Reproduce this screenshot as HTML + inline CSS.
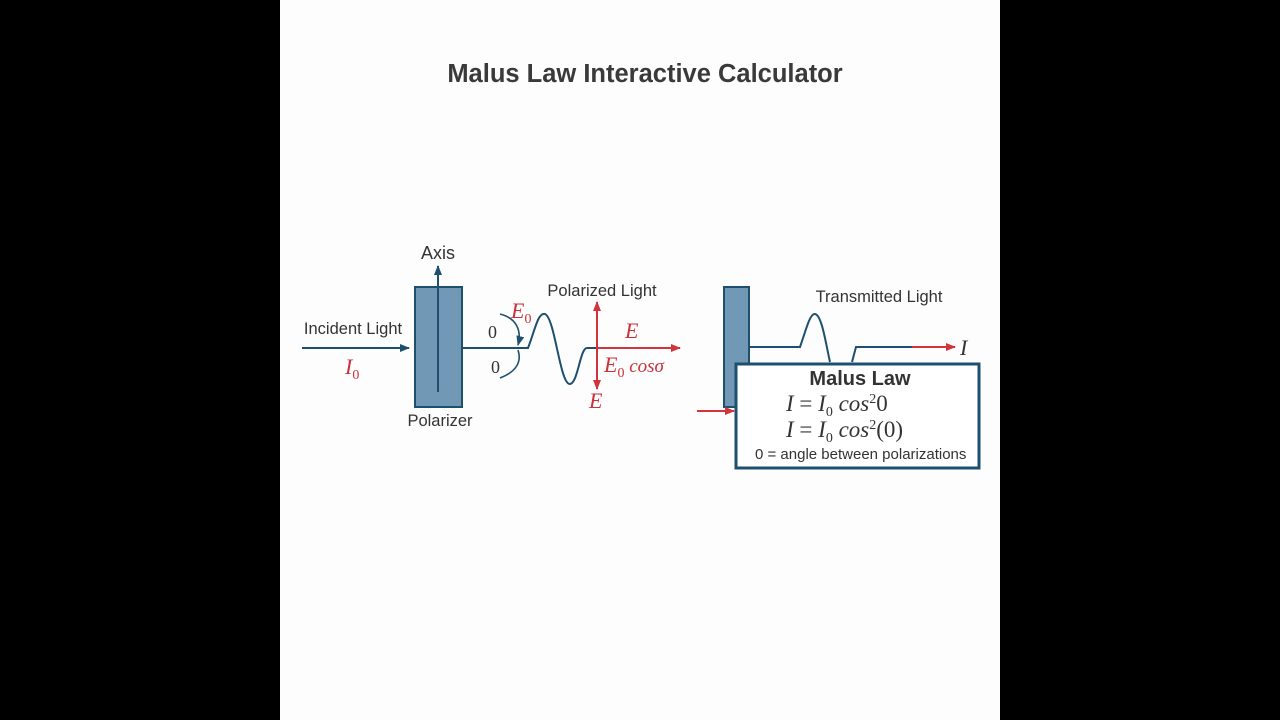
<!DOCTYPE html>
<html><head><style>
body{margin:0;width:1280px;height:720px;background:#000;position:relative;overflow:hidden;font-family:"Liberation Sans",sans-serif}
#pg{position:absolute;left:280px;top:0;width:720px;height:720px;background:#fdfdfd}
svg{position:absolute;left:0;top:0}
</style></head><body>
<div id="pg"></div>
<svg width="1280" height="720" viewBox="0 0 1280 720">
<defs>
<marker id="ab" markerWidth="10" markerHeight="8" refX="9" refY="4" orient="auto" markerUnits="userSpaceOnUse"><path d="M0,0 L10,4 L0,8 z" fill="#1e4f6e"/></marker>
<marker id="ar" markerWidth="10" markerHeight="8" refX="9" refY="4" orient="auto" markerUnits="userSpaceOnUse"><path d="M0,0 L10,4 L0,8 z" fill="#d0343c"/></marker>
</defs>
<text x="645" y="82" text-anchor="middle" font-size="25.5" font-weight="bold" fill="#3a3a3a">Malus Law Interactive Calculator</text>
<g font-size="16.5" fill="#333">
<text x="353" y="334" text-anchor="middle">Incident Light</text>
<text x="438" y="259" text-anchor="middle" font-size="18">Axis</text>
<text x="440" y="426" text-anchor="middle">Polarizer</text>
<text x="602" y="296" text-anchor="middle">Polarized Light</text>
<text x="879" y="302" text-anchor="middle">Transmitted Light</text>
</g>
<line x1="302" y1="348" x2="409" y2="348" stroke="#1e4f6e" stroke-width="2" marker-end="url(#ab)"/>
<rect x="415" y="287" width="47" height="120" fill="#7199b5" stroke="#1e4f6e" stroke-width="2"/>
<line x1="438" y1="392" x2="438" y2="266" stroke="#1e4f6e" stroke-width="2" marker-end="url(#ab)"/>
<path d="M462,348 L528,348 C535,330 538,312 545,314 C555,318 560,385 570,384 C578,383 580,348 587,348 L600,348" fill="none" stroke="#1e4f6e" stroke-width="2"/>
<path d="M500,314 C516,318 522,330 518,345" fill="none" stroke="#1e4f6e" stroke-width="1.6" marker-end="url(#ab)"/>
<path d="M500,378 C516,372 522,362 518,350" fill="none" stroke="#1e4f6e" stroke-width="1.6"/>
<line x1="597" y1="348" x2="680" y2="348" stroke="#d0343c" stroke-width="2" marker-end="url(#ar)"/>
<line x1="597" y1="348" x2="597" y2="302" stroke="#d0343c" stroke-width="2" marker-end="url(#ar)"/>
<line x1="597" y1="348" x2="597" y2="389" stroke="#d0343c" stroke-width="2" marker-end="url(#ar)"/>
<g font-family="Liberation Serif,serif" font-style="italic" fill="#c8323a" font-size="22">
<text x="345" y="374">I<tspan font-size="14" font-style="normal" dy="5">0</tspan></text>
<text x="511" y="318">E<tspan font-size="14" font-style="normal" dy="5">0</tspan></text>
<text x="625" y="338">E</text>
<text x="604" y="372">E<tspan font-size="14" font-style="normal" dy="5">0</tspan><tspan font-size="19" dy="-5"> cosσ</tspan></text>
<text x="589" y="408">E</text>
</g>
<g font-family="Liberation Serif,serif" font-size="18" fill="#333"><text x="488" y="338">0</text><text x="491" y="373">0</text></g>
<rect x="724" y="287" width="25" height="120" fill="#7199b5" stroke="#1e4f6e" stroke-width="2"/>
<path d="M749,347 L800,347 C806,330 810,313 815,314 C822,315 826,345 830,362 M852,362 L856,347 L912,347" fill="none" stroke="#1e4f6e" stroke-width="2"/>
<line x1="912" y1="347" x2="955" y2="347" stroke="#d0343c" stroke-width="2" marker-end="url(#ar)"/>
<text x="960" y="355" font-family="Liberation Serif,serif" font-style="italic" font-size="22" fill="#333">I</text>
<line x1="697" y1="411" x2="734" y2="411" stroke="#d0343c" stroke-width="2" marker-end="url(#ar)"/>
<rect x="736" y="364" width="243" height="104" fill="#fff" stroke="#1e4f6e" stroke-width="3"/>
<text x="860" y="385" text-anchor="middle" font-size="20" font-weight="bold" fill="#333">Malus Law</text>
<g font-family="Liberation Serif,serif" font-size="23" fill="#333">
<text x="786" y="411"><tspan font-style="italic">I</tspan> = <tspan font-style="italic">I</tspan><tspan font-size="14" dy="5">0</tspan><tspan dy="-5" font-style="italic"> cos</tspan><tspan font-size="14" dy="-8">2</tspan><tspan dy="8">0</tspan></text>
<text x="786" y="437"><tspan font-style="italic">I</tspan> = <tspan font-style="italic">I</tspan><tspan font-size="14" dy="5">0</tspan><tspan dy="-5" font-style="italic"> cos</tspan><tspan font-size="14" dy="-8">2</tspan><tspan dy="8">(0)</tspan></text>
</g>
<text x="755" y="459" font-size="15" fill="#333">0 = angle between polarizations</text>
</svg>
</body></html>
